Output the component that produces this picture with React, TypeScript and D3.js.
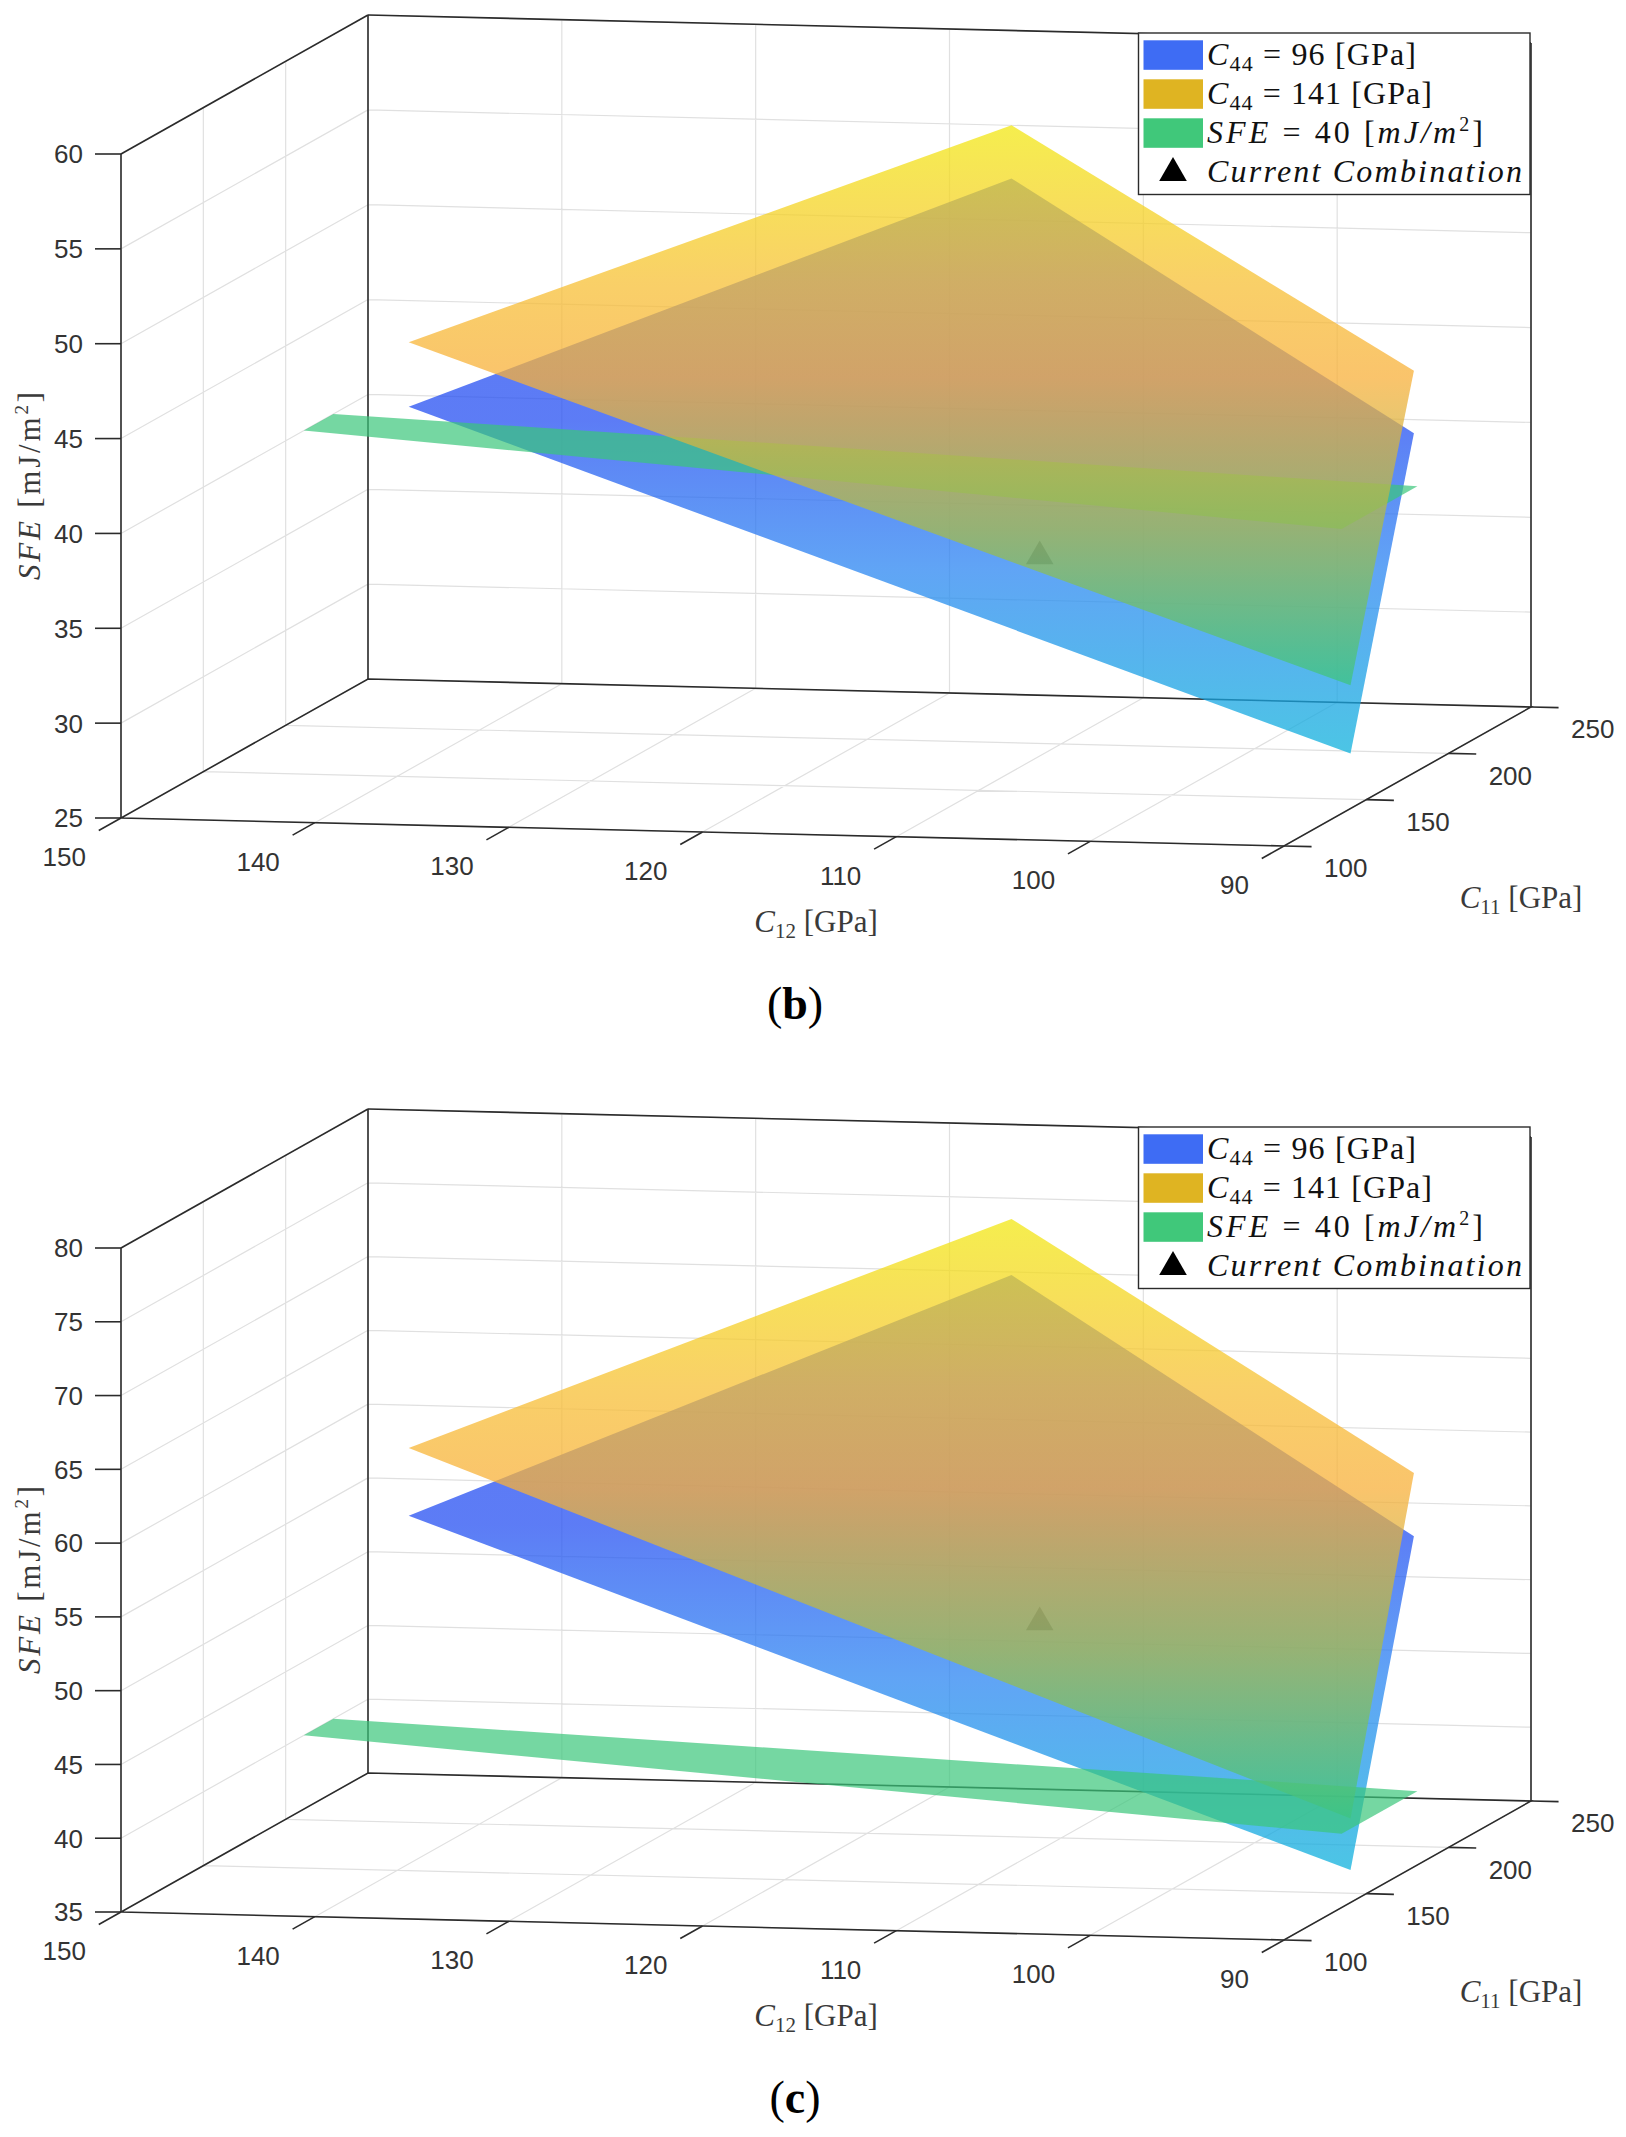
import * as d3 from "d3"

// ---- axis ticks ----
const c12Ticks = [150, 140, 130, 120, 110, 100, 90]
const c11Ticks = [100, 150, 200, 250]
const sfeTicksB = [25, 30, 35, 40, 45, 50, 55, 60]
const sfeTicksC = [35, 40, 45, 50, 55, 60, 65, 70, 75, 80]

// ---- C44 planes: corners in the (C12, C11) plane ----
const planeC12 = [147.9, 116.8, 90, 90]
const planeC11 = [250, 250, 178.9, 140.4]
// SFE at each corner
const sfeB96 = [39.4, 52.2, 42.9, 27.9]
const sfeB141 = [42.8, 55.0, 46.2, 31.5]
const sfeC96 = [52.5, 69.8, 57.4, 37.2]
const sfeC141 = [57.1, 73.6, 61.7, 40.7]

// ---- SFE = 40 band ----
const bandC12 = [150, 150, 90, 90]
const bandC11 = [211, 229, 181, 135]
const bandSFE = 40

// ---- current combination ----
const currentC12 = 107.7
const currentC11 = 160
const currentSFEb = 36.9
const currentSFEc = 52.2

// ---- projection of the axes box (orthographic view) ----
const ORIGIN: [number, number] = [121, 818] // C12=150, C11=100, SFE=min
const FRONT: [number, number] = [1163, 28] // C12 150 -> 90
const DEPTH: [number, number] = [247, -139] // C11 100 -> 250
const RISE = 664 // SFE min -> max
const PANEL_STEP = 1094

const SANS = "'Liberation Sans', Arial, Helvetica, sans-serif"
const SERIF = "'Liberation Serif', 'Times New Roman', serif"
const AXIS = "#2b2b2b"
const GRID = "#e0e0e0"

const blueStops: [number, string][] = [
  [0, "#2449f2"],
  [0.42, "#2650f2"],
  [0.68, "#2b86f2"],
  [1, "#0fb2dc"],
]
const yellowStops: [number, string][] = [
  [0, "#f2e812"],
  [0.28, "#f7c035"],
  [0.45, "#f8b03a"],
  [0.72, "#a8ba4a"],
  [1, "#3cc482"],
]

type Pt = [number, number]

interface PanelProps {
  top: number
  sfeTicks: number[]
  sfe96: number[]
  sfe141: number[]
  markerSFE: number
  tag: string
}

function Panel({ top, sfeTicks, sfe96, sfe141, markerSFE, tag }: PanelProps) {
  const u = d3.scaleLinear().domain([150, 90]).range([0, 1])
  const v = d3.scaleLinear().domain([100, 250]).range([0, 1])
  const [z0, z1] = d3.extent(sfeTicks) as [number, number]
  const w = d3.scaleLinear().domain([z0, z1]).range([0, 1])

  const P = (c12: number, c11: number, sfe: number): Pt => [
    ORIGIN[0] + FRONT[0] * u(c12) + DEPTH[0] * v(c11),
    top + ORIGIN[1] + FRONT[1] * u(c12) + DEPTH[1] * v(c11) - RISE * w(sfe),
  ]
  const seg = (a: Pt, b: Pt) => `M${a[0]},${a[1]}L${b[0]},${b[1]}`
  const poly = d3.line<Pt>().curve(d3.curveLinearClosed)

  // grid on the back wall, left wall and floor
  const grid: string[] = []
  c12Ticks.forEach((t) => {
    grid.push(seg(P(t, 250, z0), P(t, 250, z1)))
    grid.push(seg(P(t, 100, z0), P(t, 250, z0)))
  })
  c11Ticks.forEach((c) => {
    grid.push(seg(P(150, c, z0), P(150, c, z1)))
    grid.push(seg(P(150, c, z0), P(90, c, z0)))
  })
  sfeTicks.forEach((s) => {
    grid.push(seg(P(150, 250, s), P(90, 250, s)))
    grid.push(seg(P(150, 100, s), P(150, 250, s)))
  })

  // box edges
  const box = [
    seg(P(150, 100, z0), P(150, 100, z1)),
    seg(P(150, 250, z0), P(150, 250, z1)),
    seg(P(90, 250, z0), P(90, 250, z1)),
    seg(P(150, 100, z1), P(150, 250, z1)),
    seg(P(150, 250, z1), P(90, 250, z1)),
    poly([P(150, 100, z0), P(90, 100, z0), P(90, 250, z0), P(150, 250, z0)]) as string,
  ]

  const surf = (c12s: number[], c11s: number[], sfes: number[]) =>
    c12s.map((c, i) => P(c, c11s[i], sfes[i]))
  const blue = surf(planeC12, planeC11, sfe96)
  const yellow = surf(planeC12, planeC11, sfe141)
  const band = surf(bandC12, bandC11, bandC12.map(() => bandSFE))
  const ext = (pts: Pt[]) => d3.extent(pts, (p) => p[1]) as [number, number]
  const bExt = ext(blue)
  const yExt = ext(yellow)

  const marker = P(currentC12, currentC11, markerSFE)
  const tri = d3.symbol().type(d3.symbolTriangle).size(330)() as string

  const legendRows = [55, 94, 133, 172].map((y) => y + top)

  return (
    <g>
      <defs>
        <linearGradient id={`blue-${tag}`} gradientUnits="userSpaceOnUse" x1={0} x2={0} y1={bExt[0]} y2={bExt[1]}>
          {blueStops.map(([o, c]) => (
            <stop key={o} offset={o} stopColor={c} />
          ))}
        </linearGradient>
        <linearGradient id={`yellow-${tag}`} gradientUnits="userSpaceOnUse" x1={0} x2={0} y1={yExt[0]} y2={yExt[1]}>
          {yellowStops.map(([o, c]) => (
            <stop key={o} offset={o} stopColor={c} />
          ))}
        </linearGradient>
      </defs>

      {/* grid */}
      <path d={grid.join("")} stroke={GRID} strokeWidth={1.2} fill="none" />
      {/* box */}
      <g stroke={AXIS} strokeWidth={1.6} fill="none">
        {box.map((d, i) => (
          <path key={i} d={d} />
        ))}
      </g>

      {/* SFE axis ticks + labels */}
      {sfeTicks.map((s) => {
        const p = P(150, 100, s)
        return (
          <g key={`z${s}`}>
            <line x1={p[0] - 26} x2={p[0]} y1={p[1]} y2={p[1]} stroke={AXIS} strokeWidth={1.6} />
            <text x={p[0] - 38} y={p[1]} dy="0.36em" textAnchor="end" fontFamily={SANS} fontSize={26} fill="#333">
              {s}
            </text>
          </g>
        )
      })}
      {/* C12 ticks */}
      {c12Ticks.map((t) => {
        const p = P(t, 100, z0)
        return (
          <g key={`x${t}`}>
            <line x1={p[0]} y1={p[1]} x2={p[0] - 0.09 * DEPTH[0]} y2={p[1] - 0.09 * DEPTH[1]} stroke={AXIS} strokeWidth={1.6} />
            <text x={p[0] - 35} y={p[1] + 38.5} dy="0.36em" textAnchor="end" fontFamily={SANS} fontSize={26} fill="#333">
              {t}
            </text>
          </g>
        )
      })}
      {/* C11 ticks */}
      {c11Ticks.map((c) => {
        const p = P(90, c, z0)
        return (
          <g key={`y${c}`}>
            <line x1={p[0]} y1={p[1]} x2={p[0] + 0.0237 * FRONT[0]} y2={p[1] + 0.0237 * FRONT[1]} stroke={AXIS} strokeWidth={1.6} />
            <text x={p[0] + 40} y={p[1] + 22} dy="0.36em" textAnchor="start" fontFamily={SANS} fontSize={26} fill="#333">
              {c}
            </text>
          </g>
        )
      })}

      {/* axis titles */}
      <text x={816} y={921 + top} dy="0.34em" textAnchor="middle" fontFamily={SERIF} fontSize={31} fill="#3a3a3a">
        <tspan fontStyle="italic">C</tspan>
        <tspan fontSize={21} dy={6}>12</tspan>
        <tspan dy={-6}> [GPa]</tspan>
      </text>
      <text x={1521} y={897 + top} dy="0.34em" textAnchor="middle" fontFamily={SERIF} fontSize={31} fill="#3a3a3a">
        <tspan fontStyle="italic">C</tspan>
        <tspan fontSize={21} dy={6}>11</tspan>
        <tspan dy={-6}> [GPa]</tspan>
      </text>
      <text
        transform={`translate(29,${486 + top}) rotate(-90)`}
        dy="0.34em"
        textAnchor="middle"
        fontFamily={SERIF}
        fontSize={31}
        fill="#3a3a3a"
        textLength={188}
        lengthAdjust="spacing"
      >
        <tspan fontStyle="italic">SFE</tspan>
        <tspan> [mJ/m</tspan>
        <tspan fontSize={19} dy={-12}>2</tspan>
        <tspan dy={12}>]</tspan>
      </text>

      {/* current combination (drawn first, seen through the surfaces) */}
      <path d={tri} transform={`translate(${marker[0]},${marker[1]})`} fill="#000" />

      {/* surfaces */}
      <path d={poly(blue) as string} fill={`url(#blue-${tag})`} fillOpacity={0.75} />
      <path d={poly(band) as string} fill="#3bc67b" fillOpacity={0.7} />
      <path d={poly(yellow) as string} fill={`url(#yellow-${tag})`} fillOpacity={0.75} />

      {/* legend */}
      <rect x={1138.5} y={33 + top} width={391.5} height={161.5} fill="#fff" stroke={AXIS} strokeWidth={1.4} />
      <rect x={1143.5} y={legendRows[0] - 14.7} width={59.5} height={29.5} fill="#3e6cf4" />
      <rect x={1143.5} y={legendRows[1] - 14.7} width={59.5} height={29.5} fill="#dfb422" />
      <rect x={1143.5} y={legendRows[2] - 14.7} width={59.5} height={29.5} fill="#40c87a" />
      <path d={tri} transform={`translate(1173,${legendRows[3] + 1})`} fill="#000" />
      <g fontFamily={SERIF} fontSize={32} fill="#111">
        <text x={1207} y={legendRows[0] + 10} textLength={209} lengthAdjust="spacing">
          <tspan fontStyle="italic">C</tspan>
          <tspan fontSize={22} dy={6}>44</tspan>
          <tspan dy={-6}> = 96 [GPa]</tspan>
        </text>
        <text x={1207} y={legendRows[1] + 10} textLength={225} lengthAdjust="spacing">
          <tspan fontStyle="italic">C</tspan>
          <tspan fontSize={22} dy={6}>44</tspan>
          <tspan dy={-6}> = 141 [GPa]</tspan>
        </text>
        <text x={1207} y={legendRows[2] + 10} textLength={276} lengthAdjust="spacing">
          <tspan fontStyle="italic">SFE</tspan>
          <tspan> = 40 [</tspan>
          <tspan fontStyle="italic">mJ/m</tspan>
          <tspan fontSize={20} dy={-12}>2</tspan>
          <tspan dy={12}>]</tspan>
        </text>
        <text x={1207} y={legendRows[3] + 10} textLength={315} lengthAdjust="spacing" fontStyle="italic">
          Current Combination
        </text>
      </g>

      {/* caption */}
      <text x={795} y={1003 + top} dy="0.34em" textAnchor="middle" fontFamily={SERIF} fontSize={46} fill="#000">
        (<tspan fontWeight="bold">{tag}</tspan>)
      </text>
    </g>
  )
}

export default function App() {
  return (
    <svg
      width={1626}
      height={2137}
      viewBox="0 0 1626 2137"
      style={{ position: "absolute", left: 0, top: 0, background: "#fff" }}
    >
      <rect width={1626} height={2137} fill="#fff" />
      <Panel top={0} sfeTicks={sfeTicksB} sfe96={sfeB96} sfe141={sfeB141} markerSFE={currentSFEb} tag="b" />
      <Panel top={PANEL_STEP} sfeTicks={sfeTicksC} sfe96={sfeC96} sfe141={sfeC141} markerSFE={currentSFEc} tag="c" />
    </svg>
  )
}
